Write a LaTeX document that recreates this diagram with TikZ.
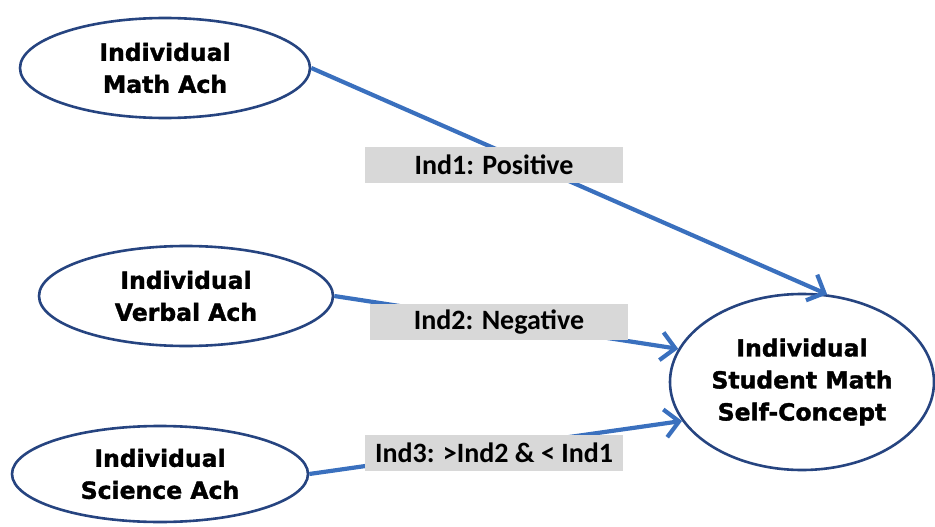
\documentclass[tikz,border=0pt]{standalone}
\usepackage{fontspec}
\setmainfont{DejaVu Sans}
\newfontfamily\heavyfont{DejaVu Sans Bold}[FakeBold=1.6]
\newfontfamily\labelfont{Carlito}
\usetikzlibrary{shapes.geometric,arrows.meta}
\definecolor{rimblue}{RGB}{38,68,128}
\definecolor{pathblue}{RGB}{58,112,190}
\definecolor{tagfill}{RGB}{216,216,216}
\begin{document}
\begin{tikzpicture}[x=1pt,y=-1pt,
  construct/.style={ellipse,draw=rimblue,line width=2.6pt,fill=white,inner sep=0pt,
    align=center,font=\heavyfont\fontsize{23.5}{32}\selectfont},
  effect/.style={draw=pathblue,line width=4.2pt,
    -{Straight Barb[length=14pt,width=28pt,line width=4.2pt]}},
  tag/.style={fill=tagfill,inner sep=0pt,minimum width=258pt,minimum height=36pt,
    font=\labelfont\bfseries\fontsize{28}{32}\selectfont}]
  \useasboundingbox (0,0) rectangle (935,527);

  % predictor constructs
  \node[construct,minimum width=290pt,minimum height=100pt] (math) at (165,68)
    {Individual\\Math Ach};
  \node[construct,minimum width=294pt,minimum height=100pt] (verbal) at (186,296)
    {Individual\\Verbal Ach};
  \node[construct,minimum width=296pt,minimum height=96pt] (science) at (160,474)
    {Individual\\Science Ach};

  % outcome construct
  \node[construct,minimum width=264pt,minimum height=176pt] (self) at (802,382)
    {Individual\\Student Math\\Self-Concept};

  % paths into self-concept
  \draw[effect] (math.east) -- (self.74);
  \draw[effect] (verbal.east) -- (self.165);
  \draw[effect] (science.east) -- (self.198);

  % path labels
  \node[tag] (ind1) at (494,165) {Ind1: Positive};
  \node[tag] (ind2) at (499,322) {Ind2: Negative};
  \node[tag] (ind3) at (494,453) {Ind3: >Ind2 \& < Ind1};
\end{tikzpicture}
\end{document}
